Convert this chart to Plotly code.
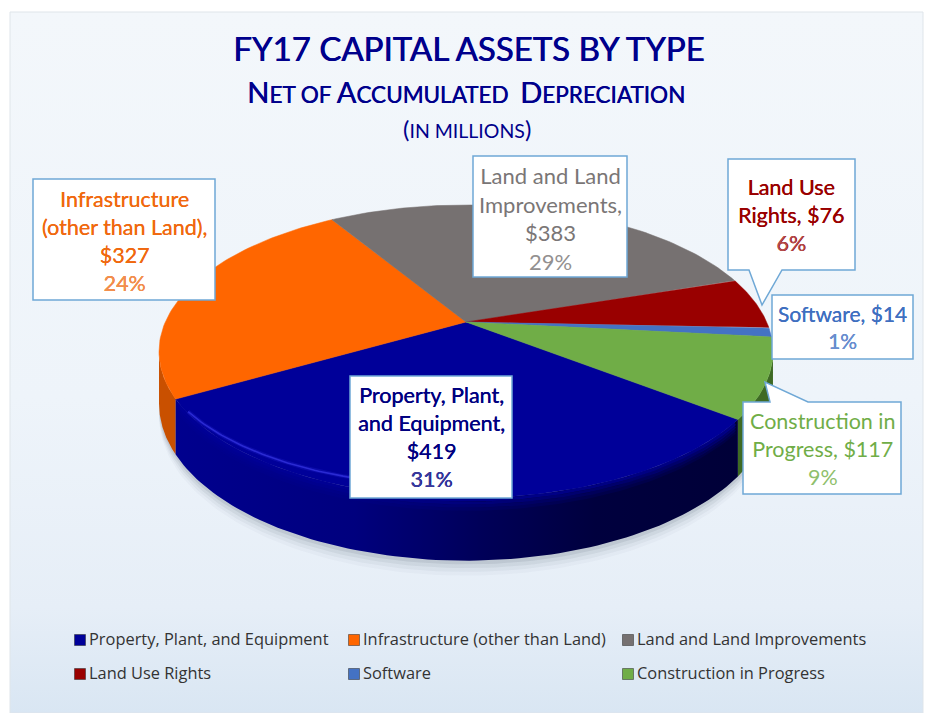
import numpy as np
import plotly.graph_objects as go

# ---- data ----
categories = ["Property, Plant, and Equipment", "Infrastructure (other than Land)",
              "Land and Land Improvements", "Land Use Rights", "Software", "Construction in Progress"]
values = [419, 327, 383, 76, 14, 117]
percents = ["31%", "24%", "29%", "6%", "1%", "9%"]
colors = ["#000099", "#FF6600", "#767171", "#990000", "#4472C4", "#70AD47"]

# ---- tilted pie projection ----
CX, CY = 466.0, 322.0
R, A, K, DEPTH = 300.7, 140.6, 0.2013, 50.0
START_DEG = 127.5


def project(theta_deg, r=1.0, drop=0.0):
    t = np.radians(np.asarray(theta_deg, dtype=float))
    u, v = r * np.sin(t), -r * np.cos(t)
    w = 1 - K * v
    return CX + R * u / w, CY + (A * v + drop) / w


fig = go.Figure()

# panel background
fig.add_trace(go.Scatter(
    x=[10, 923, 923, 10, 10], y=[12, 12, 713, 713, 12], mode="lines", fill="toself",
    line=dict(color="#dfe5ea", width=1), hoverinfo="skip", showlegend=False,
    fillgradient=dict(type="vertical", start=12, stop=713,
                      colorscale=[[0, "#f3f7fb"], [0.55, "#eef4fa"], [0.85, "#e6eef7"], [1, "#d9e6f3"]])))

# soft shadow under the pie
for grow, alpha in [(10, 0.03), (7, 0.05), (4, 0.07), (1, 0.10)]:
    th = np.linspace(0, 360, 241)
    sx, sy = project(th, 1.0, DEPTH + 2 + grow)
    fig.add_trace(go.Scatter(x=sx, y=sy, mode="lines", fill="toself", line=dict(width=0),
                             fillcolor=f"rgba(60,70,90,{alpha})", hoverinfo="skip", showlegend=False))

# slice angles
shares = np.array(values, dtype=float) / sum(values) * 360
edges = START_DEG + np.concatenate([[0], np.cumsum(shares)])
EXT_R = np.degrees(np.arccos(-K))          # right silhouette point
EXT_L = 360 - EXT_R                        # left silhouette point


def wall(a0, a1, n=90):
    th = np.linspace(a0, a1, n)
    x0, y0 = project(th)
    x1, y1 = project(th[::-1], 1.0, DEPTH)
    return np.r_[x0, x1, x0[0]], np.r_[y0, y1, y0[0]]


# outer walls
wx, wy = wall(edges[1], EXT_L)
fig.add_trace(go.Scatter(x=wx, y=wy, mode="lines", fill="toself", line=dict(width=0),
                         fillcolor="#C95000", hoverinfo="skip", showlegend=False))
wx, wy = wall(EXT_R, edges[0])
fig.add_trace(go.Scatter(x=wx, y=wy, mode="lines", fill="toself", line=dict(width=0),
                         fillcolor="#3E6A24", hoverinfo="skip", showlegend=False))
wx, wy = wall(edges[0], edges[1])
fig.add_trace(go.Scatter(x=wx, y=wy, mode="lines", fill="toself", line=dict(width=0), hoverinfo="skip",
                         showlegend=False,
                         fillgradient=dict(type="horizontal", start=175, stop=735,
                                           colorscale=[[0, "#00008E"], [0.32, "#00007E"], [0.55, "#000058"],
                                                       [0.75, "#00003E"], [1, "#000038"]])))

# top faces
for i, c in enumerate(colors):
    th = np.linspace(edges[i], edges[i + 1], 80)
    x, y = project(th)
    fig.add_trace(go.Scatter(x=np.r_[CX, x, CX], y=np.r_[CY, y, CY], mode="lines", fill="toself",
                             fillcolor=c, line=dict(width=0.5, color=c), name=categories[i],
                             hoverinfo="skip", showlegend=False))

# soft bevel between the large slice's face and its wall
bevel_th = np.linspace(edges[0] + 1, edges[1] - 1, 120)
for drop, alpha in [(1.5, 0.75), (4, 0.5), (6.5, 0.3), (9, 0.15)]:
    bx, by = project(bevel_th, 1.0, drop)
    fig.add_trace(go.Scatter(x=bx, y=by, mode="lines", line=dict(color=f"rgba(0,0,153,{alpha})", width=3),
                             hoverinfo="skip", showlegend=False))

# rim highlight on the large slice
rim_th = np.linspace(edges[1] - 5, edges[1] - 48, 60)
rim_r = np.linspace(0.995, 0.95, 60)
rx, ry = project(rim_th, rim_r)
for wid, col in [(4, "rgba(30,30,200,0.35)"), (1.6, "rgba(45,45,215,0.9)")]:
    fig.add_trace(go.Scatter(x=rx, y=ry, mode="lines", line=dict(color=col, width=wid),
                             hoverinfo="skip", showlegend=False))

# legend, drawn by hand for its wide row spacing
leg_x = [80, 354, 628, 80, 354, 628]
leg_y = [640, 640, 640, 674, 674, 674]
leg_text_x = [89, 363, 637, 89, 363, 637]
leg_text_y = [641, 641, 641, 675, 675, 675]
fig.add_trace(go.Scatter(x=leg_x, y=leg_y, mode="markers",
                         marker=dict(symbol="square", size=11, color=colors, line=dict(width=1, color="rgba(40,40,40,0.5)")),
                         hoverinfo="skip", showlegend=False))
fig.add_trace(go.Scatter(x=leg_text_x, y=leg_text_y, mode="text", text=categories, textposition="middle right",
                         textfont=dict(family="Open Sans", size=16.4, color="#333333"),
                         hoverinfo="skip", showlegend=False))

# ---- callouts ----
BORDER = "#6FA8D6"
boxes = [
    "M350,376 L512,376 L512,498 L350,498 Z",
    "M33,179 L215,179 L215,300 L33,300 Z",
    "M473,156 L627,156 L627,277 L473,277 Z",
    "M728,159 L855,159 L855,270 L782,270 L762,305 L749,270 L728,270 Z",
    "M772,295 L913,295 L913,359 L772,359 Z",
    "M743,402 L770,402 L765,382 L808,402 L901,402 L901,494 L743,494 Z",
]
shapes = [dict(type="path", path=p, fillcolor="white", line=dict(color=BORDER, width=1.5), layer="above") for p in boxes]

label_lines = [
    "Property, Plant,<br>and Equipment,<br>$419",
    "Infrastructure<br>(other than Land),<br>$327",
    "Land and Land<br>Improvements,<br>$383",
    "Land Use<br>Rights, $76",
    "Software, $14",
    "Construction in<br>Progress, $117",
]
label_centers = [(431, 437), (124, 241), (550, 218), (791, 215), (842, 327), (823, 449)]
label_sizes = [21.5, 21.5, 22, 21.5, 21, 21.5]
label_colors = ["#00007F", "#F0680F", "#7A7676", "#990000", "#3F6FC0", "#70AD47"]
pct_colors = ["#3A3A9C", "#F28F4E", "#939090", "#B24A4A", "#6A8FD0", "#8FBF6C"]
label_weight = [0.4, 0.1, 0.0, 0.35, 0.1, 0.0]

annotations = []
for txt, (x, y), c, pc, p, wgt, sz in zip(label_lines, label_centers, label_colors, pct_colors, percents,
                                          label_weight, label_sizes):
    annotations.append(dict(
        x=x, y=y, xref="x", yref="y", showarrow=False, xanchor="center", yanchor="middle", align="center",
        text=f'{txt}<br><span style="color:{pc}">{p}</span>',
        font=dict(family="Lato", size=sz, color=c, shadow=f"{wgt}px 0 0.3px {c}" if wgt else "none")))

TITLE = "#00008B"
HEAVY = f"0.7px 0 0.3px {TITLE}"
annotations += [
    dict(x=468, y=48, xref="x", yref="y", showarrow=False, text="FY17 CAPITAL ASSETS BY TYPE",
         font=dict(family="Lato", size=33, color=TITLE, shadow=HEAVY)),
    dict(x=466, y=91, xref="x", yref="y", showarrow=False,
         text='<span style="font-size:29px">N</span>ET OF <span style="font-size:29px">A</span>CCUMULATED  <span style="font-size:29px">D</span>EPRECIATION',
         font=dict(family="Lato", size=22.5, color=TITLE, shadow=f"0.5px 0 0.3px {TITLE}")),
    dict(x=467, y=128, xref="x", yref="y", showarrow=False,
         text='(<span style="font-size:19.5px">IN MILLIONS</span>)',
         font=dict(family="Lato", size=24, color=TITLE)),
]

fig.update_layout(
    width=928, height=713, margin=dict(l=0, r=0, t=0, b=0),
    paper_bgcolor="white", plot_bgcolor="rgba(0,0,0,0)", showlegend=False,
    xaxis=dict(range=[0, 928], visible=False, fixedrange=True),
    yaxis=dict(range=[713, 0], visible=False, fixedrange=True),
    shapes=shapes, annotations=annotations,
)
fig.write_html("out.html", config={"displayModeBar": False},
               post_script="document.body.style.margin='0';")
